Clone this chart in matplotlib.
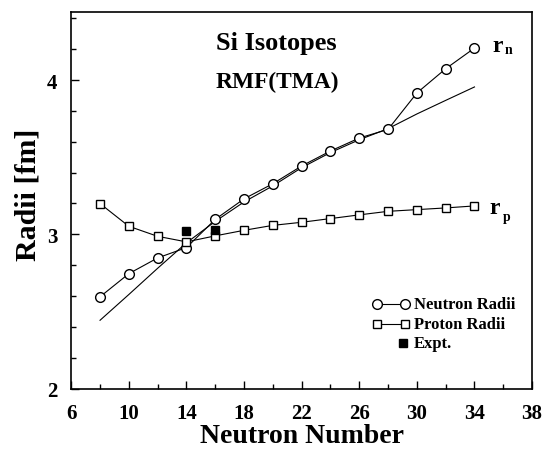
import matplotlib
matplotlib.use("Agg")
import matplotlib.pyplot as plt
from matplotlib.ticker import MultipleLocator, FixedLocator

plt.rcParams['font.family'] = ['Liberation Serif', 'DejaVu Serif']
plt.rcParams['font.weight'] = 'bold'

# neutron numbers of the calculated Si isotopes
neutrons = [8, 10, 12, 14, 16, 18, 20, 22, 24, 26, 28, 30, 32, 34]
r_neutron = [2.595, 2.745, 2.847, 2.914, 3.097, 3.230, 3.328, 3.443, 3.540,
             3.624, 3.680, 3.916, 4.073, 4.207]
r_proton = [3.199, 3.052, 2.987, 2.951, 2.990, 3.026, 3.058, 3.078, 3.102,
            3.126, 3.149, 3.160, 3.171, 3.184]
# thin reference curve without markers
r_curve = [2.443, 2.610, 2.780, 2.945, 3.084, 3.210, 3.314, 3.432, 3.530,
           3.613, 3.685, 3.780, 3.868, 3.955]
expt_n = [14, 16]
expt_r = [3.02, 3.03]
xticks = [6, 10, 14, 18, 22, 26, 30, 34, 38]

fig = plt.figure(figsize=(5.48, 4.52), dpi=100)
ax = fig.add_axes([0.130, 0.138, 0.841, 0.833])

ax.plot(neutrons, r_curve, '-', color='black', lw=0.8)
ax.plot(neutrons, r_neutron, '-o', color='black', lw=0.8, ms=7,
        mfc='white', mec='black', mew=1.0)
ax.plot(neutrons, r_proton, '-s', color='black', lw=0.8, ms=5.5,
        mfc='white', mec='black', mew=1.0)
ax.plot(expt_n, expt_r, 's', color='black', ms=5.5, ls='none')

ax.set_xlim(6, 38)
ax.set_ylim(2, 4.44)
ax.xaxis.set_major_locator(FixedLocator(xticks))
ax.xaxis.set_minor_locator(MultipleLocator(2))
ax.yaxis.set_major_locator(MultipleLocator(1))
ax.yaxis.set_minor_locator(MultipleLocator(0.2))
ax.tick_params(which='both', direction='in', top=False, right=False,
               labelsize=15, width=1, pad=10)
ax.tick_params(which='major', length=6)
ax.tick_params(which='minor', length=3.4)
for lab in ax.get_xticklabels() + ax.get_yticklabels():
    lab.set_fontweight('bold')
for sp in ax.spines.values():
    sp.set_linewidth(1.2)

ax.set_xlabel('Neutron Number', fontsize=20, fontweight='bold')
ax.set_ylabel('Radii [fm]', fontsize=21.5, fontweight='bold')
ax.xaxis.set_label_coords(0.5, -0.092)
ax.yaxis.set_label_coords(-0.093, 0.517)
ax.yaxis.label.set_va('center')

ax.text(0.444, 0.918, 'Si Isotopes', transform=ax.transAxes, fontsize=19,
        fontweight='bold', ha='center', va='center')
ax.text(0.447, 0.817, 'RMF(TMA)', transform=ax.transAxes, fontsize=16.8,
        fontweight='bold', ha='center', va='center')

# curve labels r_n and r_p
ax.text(0.913, 0.912, 'r', transform=ax.transAxes, fontsize=17,
        fontweight='bold', ha='left', va='center')
ax.text(0.941, 0.900, 'n', transform=ax.transAxes, fontsize=10,
        fontweight='bold', ha='left', va='center')
ax.text(0.907, 0.482, 'r', transform=ax.transAxes, fontsize=17,
        fontweight='bold', ha='left', va='center')
ax.text(0.937, 0.458, 'p', transform=ax.transAxes, fontsize=10,
        fontweight='bold', ha='left', va='center')

# legend drawn by hand
lx = [0.664, 0.725]
ax.plot(lx, [0.224, 0.224], '-o', color='black', lw=0.8, ms=7, mfc='white',
        mec='black', mew=1.0, transform=ax.transAxes, clip_on=False)
ax.plot(lx, [0.171, 0.171], '-s', color='black', lw=0.8, ms=5.5, mfc='white',
        mec='black', mew=1.0, transform=ax.transAxes, clip_on=False)
ax.plot([0.720], [0.121], 's', color='black', ms=5.5,
        transform=ax.transAxes, clip_on=False)
for y, s in [(0.224, 'Neutron Radii'), (0.171, 'Proton Radii'), (0.121, 'Expt.')]:
    ax.text(0.744, y, s, transform=ax.transAxes, fontsize=12,
            fontweight='bold', ha='left', va='center')

fig.savefig('out.png', dpi=100)
